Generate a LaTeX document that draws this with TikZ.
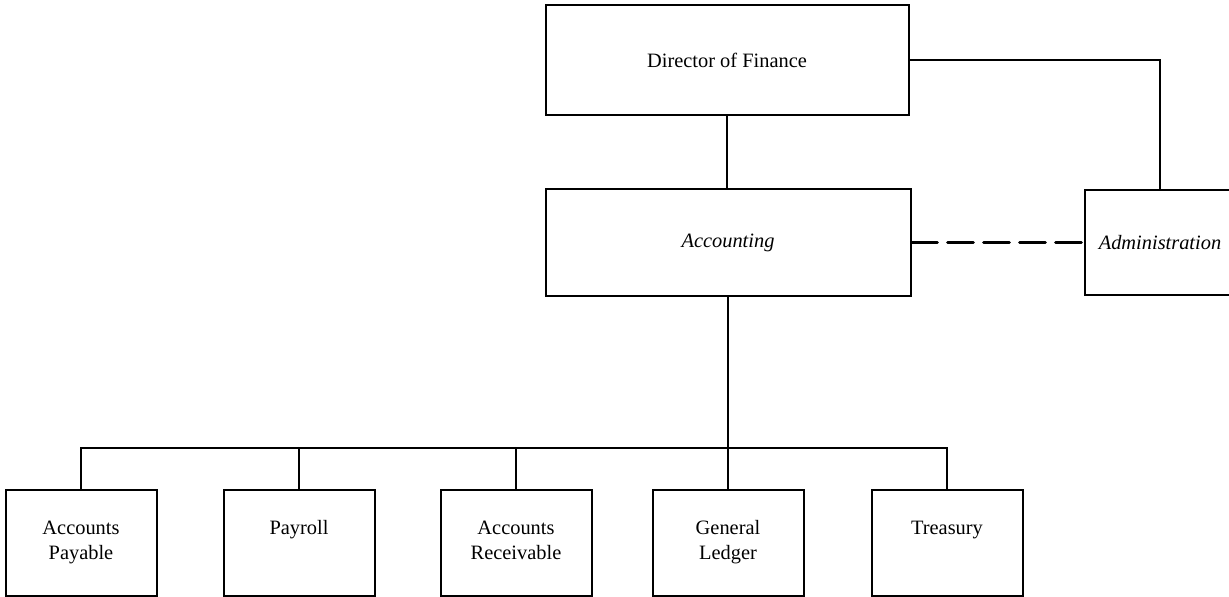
\documentclass[tikz,border=0pt]{standalone}
\usepackage{fontspec}
\setmainfont{Liberation Serif}
\tikzset{
  unit/.style={draw, line width=1pt, align=center, inner sep=0pt,
    font=\fontsize{10.2}{12.5}\selectfont},
  office/.style={unit, minimum width=75.5pt, minimum height=53pt, text depth=3pt},
  link/.style={line width=1pt},
}
\begin{document}
\begin{tikzpicture}[x=0.5pt,y=-0.5pt,line cap=round]
  \useasboundingbox (0,0) rectangle (1229,597);
  \node[unit, minimum width=181.5pt, minimum height=55pt] (dir) at (727,60) {Director of Finance};   %top
  \node[unit, minimum width=182.5pt, minimum height=53.5pt] (acc) at (728,242.5) {\itshape Accounting};
  \node[unit, minimum width=75pt, minimum height=52.5pt] (adm) at (1160,242.5) {\itshape Administration};
  \node[office] (ap) at (81,543) {Accounts\\Payable};      % bottom row
  \node[office] (pr) at (299,543) {Payroll\\\phantom{Py}};
  \node[office] (ar) at (516,543) {Accounts\\Receivable};
  \node[office] (gl) at (728,543) {General\\Ledger};
  \node[office] (tr) at (947,543) {Treasury\\\phantom{Py}};
  \coordinate (bus) at (728,448);
  \draw[link] (dir.south) -- (dir.south |- acc.north);       % dir-acc
  \draw[link] (dir.east) -| (adm.north);                     % dir-adm
  \draw[link, line width=1.3pt, dash pattern=on 13pt off 5pt] (acc.east) -- (adm.west);
  \draw[link] (acc.south) -- (gl.north);                     % trunk
  \draw[link] (ap.north) |- (bus) -| (tr.north);             % bus
  \foreach \b in {pr,ar}
    \draw[link] (\b.north) -- (\b.north |- bus);
\end{tikzpicture}
\end{document}
